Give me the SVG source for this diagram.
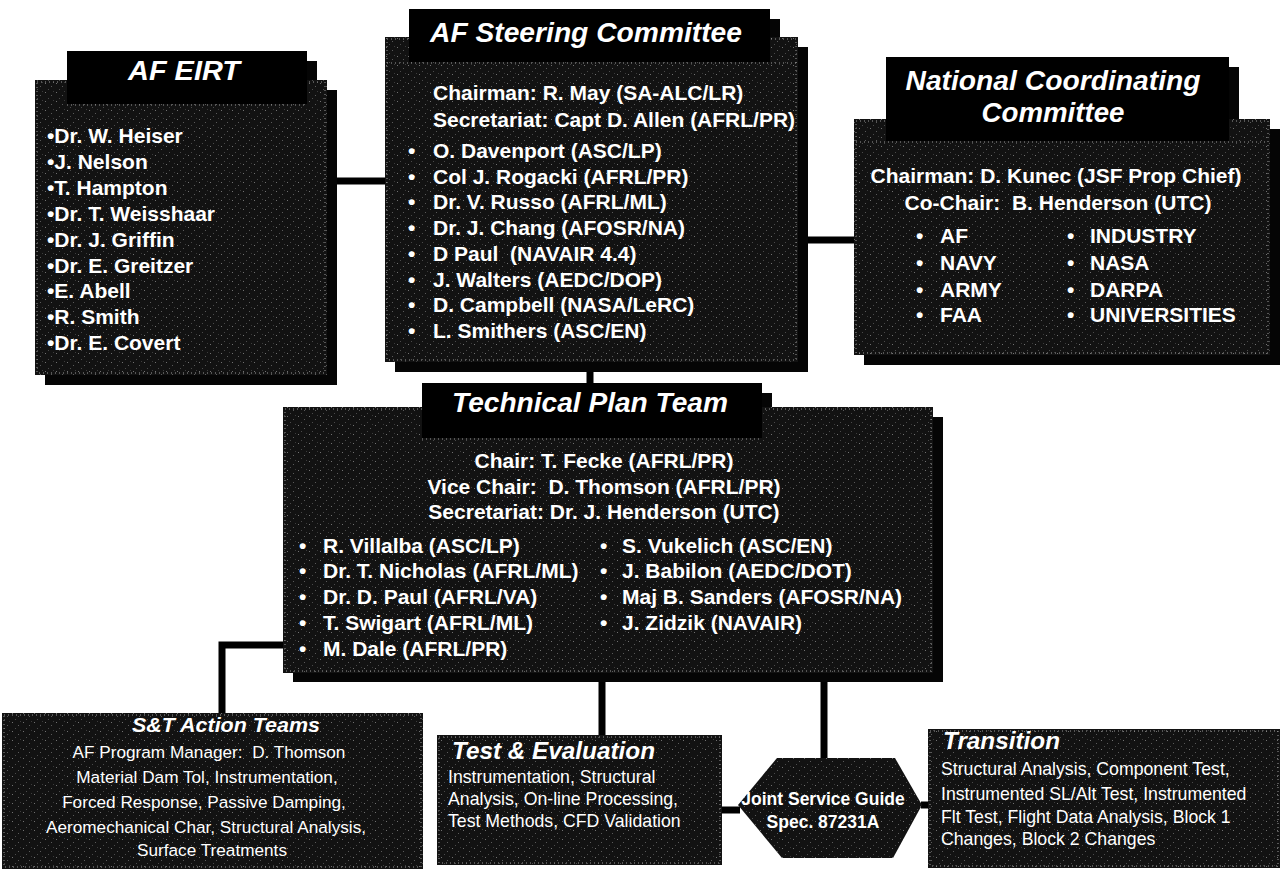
<svg xmlns="http://www.w3.org/2000/svg" width="1280" height="869" viewBox="0 0 1280 869">
<defs>
<pattern id="spk" width="11" height="9" patternUnits="userSpaceOnUse">
<rect width="11" height="9" fill="#121212"/>
<rect x="1" y="2" width="1" height="1" fill="#707070"/>
<rect x="7" y="5" width="1" height="1" fill="#5a5a5a"/>
<rect x="4" y="8" width="1" height="1" fill="#4a4a4a"/>
<rect x="9" y="1" width="1" height="1" fill="#3c3c3c"/>
</pattern>
<style>
.back{fill:#050505}
.b{fill:url(#spk)}
.tab{fill:#000}
.edge{fill:none;stroke:#9a9a9a;stroke-width:1;stroke-dasharray:1 3}
.t{font-family:"Liberation Sans",Arial,Helvetica,sans-serif;fill:#fff}
.ti{font-weight:bold;font-style:italic;font-size:27px}
.li{font-weight:bold;font-size:21px}
.rg{font-size:17.7px}
.mid{text-anchor:middle}
.conn{stroke:#000;stroke-width:7;fill:none}
</style>
</defs>

<g id="connectors">
<line class="conn" x1="337" y1="181" x2="385" y2="181"/>
<line class="conn" x1="808" y1="240" x2="854" y2="240"/>
<line class="conn" x1="590" y1="372" x2="590" y2="384" stroke-width="6"/>
<path class="conn" d="M283,645 H222 V713" stroke-width="8"/>
<line class="conn" x1="602" y1="681" x2="602" y2="735" stroke-width="8"/>
<line class="conn" x1="824" y1="681" x2="824" y2="758" stroke-width="8"/>
<line class="conn" x1="722" y1="810" x2="740" y2="810"/>
<line class="conn" x1="921" y1="805" x2="929" y2="805"/>
</g>

<g id="node-af-eirt">
<rect class="back" x="45" y="90" width="292" height="295"/>
<rect class="back" x="77" y="61" width="240" height="52"/>
<rect class="b" x="35" y="80" width="292" height="295"/>
<rect class="edge" x="37" y="82" width="288" height="291"/>
<rect class="tab" x="67" y="51" width="240" height="53"/>
<line class="edge" x1="67" y1="105" x2="307" y2="105"/>
<text class="t ti mid" x="184" y="80" textLength="112" lengthAdjust="spacingAndGlyphs">AF EIRT</text>
<g class="t li">
<text x="47" y="143">•Dr. W. Heiser</text>
<text x="47" y="169">•J. Nelson</text>
<text x="47" y="195">•T. Hampton</text>
<text x="47" y="221">•Dr. T. Weisshaar</text>
<text x="47" y="247">•Dr. J. Griffin</text>
<text x="47" y="273">•Dr. E. Greitzer</text>
<text x="47" y="298">•E. Abell</text>
<text x="47" y="324">•R. Smith</text>
<text x="47" y="350">•Dr. E. Covert</text>
</g>
</g>

<g id="node-steering">
<rect class="back" x="395" y="47" width="413" height="325"/>
<rect class="back" x="419" y="19" width="361" height="53"/>
<rect class="b" x="385" y="37" width="413" height="325"/>
<rect class="edge" x="387" y="39" width="409" height="321"/>
<rect class="tab" x="409" y="9" width="361" height="53"/>
<line class="edge" x1="387" y1="63" x2="796" y2="63"/>
<text class="t ti mid" x="586" y="42" textLength="312" lengthAdjust="spacingAndGlyphs">AF Steering Committee</text>
<g class="t li">
<text x="433" y="100">Chairman: R. May (SA-ALC/LR)</text>
<text x="433" y="127">Secretariat: Capt D. Allen (AFRL/PR)</text>
<text x="408" y="158">•</text><text x="433" y="158">O. Davenport (ASC/LP)</text>
<text x="408" y="184">•</text><text x="433" y="184">Col J. Rogacki (AFRL/PR)</text>
<text x="408" y="209">•</text><text x="433" y="209">Dr. V. Russo (AFRL/ML)</text>
<text x="408" y="235">•</text><text x="433" y="235">Dr. J. Chang (AFOSR/NA)</text>
<text x="408" y="261">•</text><text x="433" y="261" xml:space="preserve">D Paul  (NAVAIR 4.4)</text>
<text x="408" y="287">•</text><text x="433" y="287">J. Walters (AEDC/DOP)</text>
<text x="408" y="312">•</text><text x="433" y="312">D. Campbell (NASA/LeRC)</text>
<text x="408" y="338">•</text><text x="433" y="338">L. Smithers (ASC/EN)</text>
</g>
</g>

<g id="node-ncc">
<rect class="back" x="864" y="129" width="416" height="236"/>
<rect class="back" x="896" y="67" width="343" height="83"/>
<rect class="b" x="854" y="119" width="416" height="236"/>
<rect class="edge" x="856" y="121" width="412" height="232"/>
<rect class="tab" x="886" y="57" width="343" height="84"/>
<line class="edge" x1="856" y1="142" x2="1268" y2="142"/>
<text class="t ti mid" x="1053" y="90" textLength="295" lengthAdjust="spacingAndGlyphs">National Coordinating</text>
<text class="t ti mid" x="1053" y="122" textLength="143" lengthAdjust="spacingAndGlyphs">Committee</text>
<g class="t li">
<text class="mid" x="1056" y="183">Chairman: D. Kunec (JSF Prop Chief)</text>
<text class="mid" x="1058" y="210" xml:space="preserve">Co-Chair:  B. Henderson (UTC)</text>
<text x="916" y="243">•</text><text x="940" y="243">AF</text>
<text x="916" y="270">•</text><text x="940" y="270">NAVY</text>
<text x="916" y="297">•</text><text x="940" y="297">ARMY</text>
<text x="916" y="322">•</text><text x="940" y="322">FAA</text>
<text x="1067" y="243">•</text><text x="1090" y="243">INDUSTRY</text>
<text x="1067" y="270">•</text><text x="1090" y="270">NASA</text>
<text x="1067" y="297">•</text><text x="1090" y="297">DARPA</text>
<text x="1067" y="322">•</text><text x="1090" y="322">UNIVERSITIES</text>
</g>
</g>

<g id="node-tpt">
<rect class="back" x="293" y="417" width="650" height="265"/>
<rect class="back" x="432" y="393" width="340" height="55"/>
<rect class="b" x="283" y="407" width="650" height="266"/>
<rect class="edge" x="285" y="409" width="646" height="262"/>
<rect class="tab" x="422" y="383" width="340" height="55"/>
<line class="edge" x1="422" y1="439" x2="762" y2="439"/>
<text class="t ti mid" x="590" y="412" textLength="276" lengthAdjust="spacingAndGlyphs">Technical Plan Team</text>
<g class="t li">
<text class="mid" x="604" y="468">Chair: T. Fecke (AFRL/PR)</text>
<text class="mid" x="604" y="494" xml:space="preserve">Vice Chair:  D. Thomson (AFRL/PR)</text>
<text class="mid" x="604" y="519">Secretariat: Dr. J. Henderson (UTC)</text>
<text x="299" y="553">•</text><text x="323" y="553">R. Villalba (ASC/LP)</text>
<text x="299" y="578">•</text><text x="323" y="578">Dr. T. Nicholas (AFRL/ML)</text>
<text x="299" y="604">•</text><text x="323" y="604">Dr. D. Paul (AFRL/VA)</text>
<text x="299" y="630">•</text><text x="323" y="630">T. Swigart (AFRL/ML)</text>
<text x="299" y="656">•</text><text x="323" y="656">M. Dale (AFRL/PR)</text>
<text x="600" y="553">•</text><text x="622" y="553">S. Vukelich (ASC/EN)</text>
<text x="600" y="578">•</text><text x="622" y="578">J. Babilon (AEDC/DOT)</text>
<text x="600" y="604">•</text><text x="622" y="604">Maj B. Sanders (AFOSR/NA)</text>
<text x="600" y="630">•</text><text x="622" y="630">J. Zidzik (NAVAIR)</text>
</g>
</g>

<g id="node-st">
<rect class="b" x="2" y="713" width="421" height="156"/>
<rect class="edge" x="4" y="715" width="417" height="152"/>
<text class="t mid" x="226" y="732" font-weight="bold" font-style="italic" font-size="21" textLength="188" lengthAdjust="spacingAndGlyphs">S&amp;T Action Teams</text>
<g class="t mid" font-size="17.2">
<text x="209" y="758" xml:space="preserve">AF Program Manager:  D. Thomson</text>
<text x="207" y="783">Material Dam Tol, Instrumentation,</text>
<text x="204" y="808">Forced Response, Passive Damping,</text>
<text x="206" y="833">Aeromechanical Char, Structural Analysis,</text>
<text x="212" y="856">Surface Treatments</text>
</g>
</g>

<g id="node-te">
<rect class="b" x="437" y="735" width="285" height="130"/>
<rect class="edge" x="439" y="737" width="281" height="126"/>
<text class="t" x="452" y="759" font-weight="bold" font-style="italic" font-size="24" textLength="203" lengthAdjust="spacingAndGlyphs">Test &amp; Evaluation</text>
<g class="t rg">
<text x="448" y="783">Instrumentation, Structural</text>
<text x="448" y="805">Analysis, On-line Processing,</text>
<text x="448" y="827">Test Methods, CFD Validation</text>
</g>
</g>

<g id="node-jsg">
<polygon class="b" points="777,758 895,758 922,805 893,858 782,858 738,805"/>
<g class="t mid" font-weight="bold" font-size="17.5">
<text x="823" y="805">Joint Service Guide</text>
<text x="823" y="828">Spec. 87231A</text>
</g>
</g>

<g id="node-transition">
<rect class="b" x="928" y="729" width="352" height="139"/>
<rect class="edge" x="930" y="731" width="348" height="135"/>
<text class="t" x="943" y="749" font-weight="bold" font-style="italic" font-size="23" textLength="117" lengthAdjust="spacingAndGlyphs">Transition</text>
<g class="t rg">
<text x="941" y="775">Structural Analysis, Component Test,</text>
<text x="941" y="800">Instrumented SL/Alt Test, Instrumented</text>
<text x="941" y="823">Flt Test, Flight Data Analysis, Block 1</text>
<text x="941" y="845">Changes, Block 2 Changes</text>
</g>
</g>
</svg>
